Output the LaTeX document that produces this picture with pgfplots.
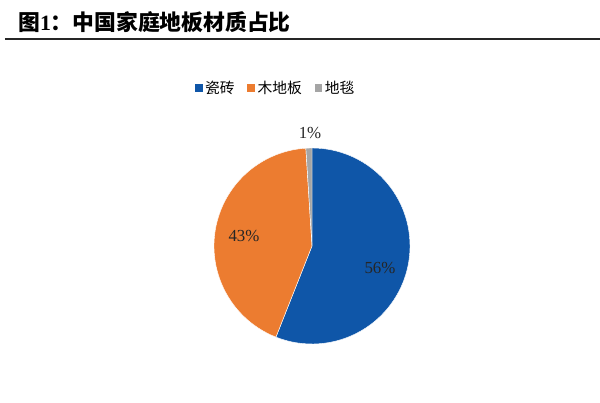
\documentclass[border=0pt]{standalone}
\usepackage{fontspec}
\setmainfont{Liberation Serif}
\newfontfamily\cjk{Noto Sans CJK SC}
\usepackage{pgfplots}
\usepackage{pgfplotstable}
\pgfplotsset{compat=1.18}

\definecolor{cblue}{HTML}{0F56A8}
\definecolor{corange}{HTML}{EC7C30}
\definecolor{cgray}{HTML}{A5A5A5}

% shares in percent
\pgfplotstableread{
name   share
tile   56
wood   43
carpet 1
}\sharetable

\begin{document}
\begin{tikzpicture}
\useasboundingbox (0,0) rectangle (15cm,10.075cm);

% title and rule
\node[anchor=base west, inner sep=0pt, font=\cjk\bfseries\fontsize{15.5}{18}\selectfont]
  at (0.45cm,9.3cm) {图{\rmfamily\bfseries 1}：中国家庭地板材质占比};
\draw[line width=1.4pt, black!85] (0.12cm,9.11cm) -- (15cm,9.11cm);

\pgfplotstablegetelem{0}{share}\of\sharetable \let\sA\pgfplotsretval
\pgfplotstablegetelem{1}{share}\of\sharetable \let\sB\pgfplotsretval
\pgfplotstablegetelem{2}{share}\of\sharetable \let\sC\pgfplotsretval
\pgfmathsetmacro\aA{90-3.6*\sA}
\pgfmathsetmacro\aB{\aA-3.6*\sB}
\pgfmathsetmacro\aC{\aB-3.6*\sC}

\begin{axis}[
    at={(7.8cm,3.925cm)}, anchor=center,
    x=2.45cm, y=2.45cm,
    xmin=-1.2, xmax=1.2, ymin=-1.2, ymax=1.2,
    hide axis, clip=false,
    legend style={draw=none, fill=none,
      at={(0.347,1.172)}, anchor=center,
      font=\cjk\fontsize{10.5}{12}\selectfont,
      legend columns=3,
      /tikz/every even column/.append style={column sep=0.25cm}},
    legend image code/.code={\fill[#1] (0cm,-0.085cm) rectangle (0.17cm,0.085cm);},
  ]
  \addlegendimage{cblue}\addlegendentry{瓷砖}
  \addlegendimage{corange}\addlegendentry{木地板}
  \addlegendimage{cgray}\addlegendentry{地毯}

  \filldraw[fill=cblue, draw=white, line width=0.3pt] (axis cs:0,0) -- (axis cs:0,1)
    arc[start angle=90, end angle=\aA, radius=2.45cm] -- cycle;
  \filldraw[fill=corange, draw=white, line width=0.3pt] (axis cs:0,0) -- +(\aA:2.45cm)
    arc[start angle=\aA, end angle=\aB, radius=2.45cm] -- cycle;
  \filldraw[fill=cgray, draw=white, line width=0.3pt] (axis cs:0,0) -- +(\aB:2.45cm)
    arc[start angle=\aB, end angle=\aC, radius=2.45cm] -- cycle;

  \node[font=\fontsize{12}{14}\selectfont, text=black!85] at (axis cs:0.694,-0.224) {\sA\%};
  \node[font=\fontsize{12}{14}\selectfont, text=black!85] at (axis cs:-0.694,0.102) {\sB\%};
  \node[font=\fontsize{12}{14}\selectfont, text=black!85] at (axis cs:-0.02,1.153) {\sC\%};
\end{axis}
\end{tikzpicture}
\end{document}
